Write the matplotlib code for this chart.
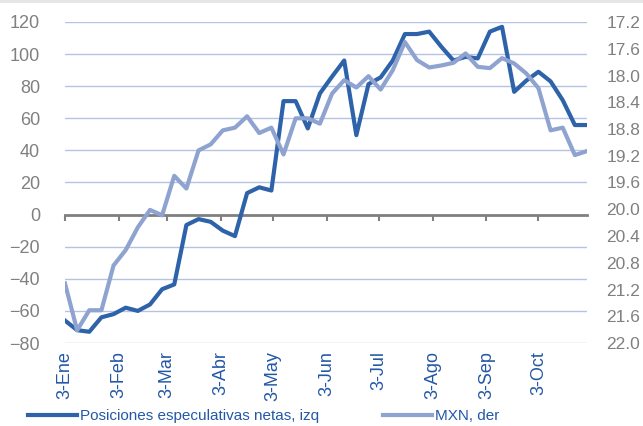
import pandas as pd
import matplotlib
matplotlib.use('Agg')
import matplotlib.pyplot as plt
from matplotlib.patches import Rectangle

# weekly data, Tuesdays from 3-Jan-2017
start_date = '2017-01-03'
n_weeks = 44

# Posiciones especulativas netas (left axis)
posiciones = [-66, -72, -73, -64, -62, -58, -60, -56, -46.5, -43.5,
              -6.5, -2.8, -4.5, -10, -13.4, 13.4, 17, 15, 70.7, 70.7,
              53.7, 75.5, 86, 96, 49.5, 81.3, 85.5, 96, 112.5, 112.5,
              114, 104.6, 96, 98.3, 97.3, 114, 117, 76.5, 83.5, 89,
              83, 71.3, 55.8, 55.8]

# MXN (right axis, inverted)
mxn = [21.11, 21.81, 21.51, 21.51, 20.84, 20.61, 20.27, 20.01, 20.09, 19.50,
       19.69, 19.12, 19.03, 18.82, 18.78, 18.61, 18.86, 18.78, 19.18, 18.64,
       18.64, 18.72, 18.27, 18.07, 18.18, 18.01, 18.21, 17.92, 17.50, 17.77,
       17.88, 17.85, 17.81, 17.67, 17.87, 17.89, 17.74, 17.82, 17.97, 18.19,
       18.82, 18.78, 19.19, 19.13]

tick_dates = ['2017-01-03', '2017-02-03', '2017-03-03', '2017-04-03', '2017-05-03',
              '2017-06-03', '2017-07-03', '2017-08-03', '2017-09-03', '2017-10-03']
tick_labels = ['3-Ene', '3-Feb', '3-Mar', '3-Abr', '3-May',
               '3-Jun', '3-Jul', '3-Ago', '3-Sep', '3-Oct']

left_ticks = list(range(-80, 121, 20))
right_ticks = [17.2, 17.6, 18.0, 18.4, 18.8, 19.2, 19.6, 20.0, 20.4, 20.8, 21.2, 21.6, 22.0]

dark = '#2e63aa'
light = '#8fa3d0'
grid_c = '#b4c2e4'
gray = '#808080'
label_blue = '#2358a6'

plt.rcParams['font.family'] = ['Liberation Sans', 'DejaVu Sans']

dates = pd.date_range(start_date, periods=n_weeks, freq='7D')
ticks = pd.to_datetime(tick_dates)

fig = plt.figure(figsize=(6.43, 4.26), dpi=100)
ax = fig.add_axes([65/643, 1-343/426, 522/643, 321/426])

ax.set_xlim(dates[0], dates[-1])
ax.set_ylim(-80, 120)
ax.set_yticks(left_ticks)
for v in left_ticks:
    if v != 0:
        ax.axhline(v, color=grid_c, lw=1.0, zorder=0)
for s in ax.spines.values():
    s.set_visible(False)

# zero line with ticks
ax.spines['bottom'].set_visible(True)
ax.spines['bottom'].set_position(('data', 0))
ax.spines['bottom'].set_color(gray)
ax.spines['bottom'].set_linewidth(2.0)
ax.spines['bottom'].set_zorder(1)
ax.set_xticks(ticks)
ax.tick_params(axis='x', direction='out', length=4, width=1.5, color=gray, labelbottom=False)
ax.tick_params(axis='y', length=0, pad=18, labelsize=13, labelcolor=gray)

sec = ax.secondary_xaxis(0)
sec.set_xticks(ticks)
sec.set_xticklabels(tick_labels, rotation=90)
sec.tick_params(length=0, pad=6, labelsize=13, labelcolor=label_blue)
sec.spines['bottom'].set_visible(False)

l1, = ax.plot(dates, posiciones, color=dark, lw=3.0, zorder=3,
              label='Posiciones especulativas netas, izq')

ax2 = ax.twinx()
l2, = ax2.plot(dates, mxn, color=light, lw=3.0, zorder=3, label='MXN, der')
ax2.set_ylim(22.0, 17.2)
ax2.set_yticks(right_ticks)
ax2.set_yticklabels(['%.1f' % t for t in right_ticks])
ax2.tick_params(axis='y', length=0, pad=14, labelsize=12.5, labelcolor=gray)
for s in ax2.spines.values():
    s.set_visible(False)

leg = fig.legend(handles=[l1, l2], loc='center left', bbox_to_anchor=(28/643, 1-416/426),
                 ncol=2, frameon=False, handlelength=3.2, handletextpad=0.2,
                 columnspacing=4.2, borderaxespad=0, borderpad=0, fontsize=11)
for t in leg.get_texts():
    t.set_color(label_blue)

fig.add_artist(Rectangle((0, 1-3/426), 1, 3/426, transform=fig.transFigure,
                         color='#e6e6e6', lw=0))

fig.savefig('out.png', dpi=100)
